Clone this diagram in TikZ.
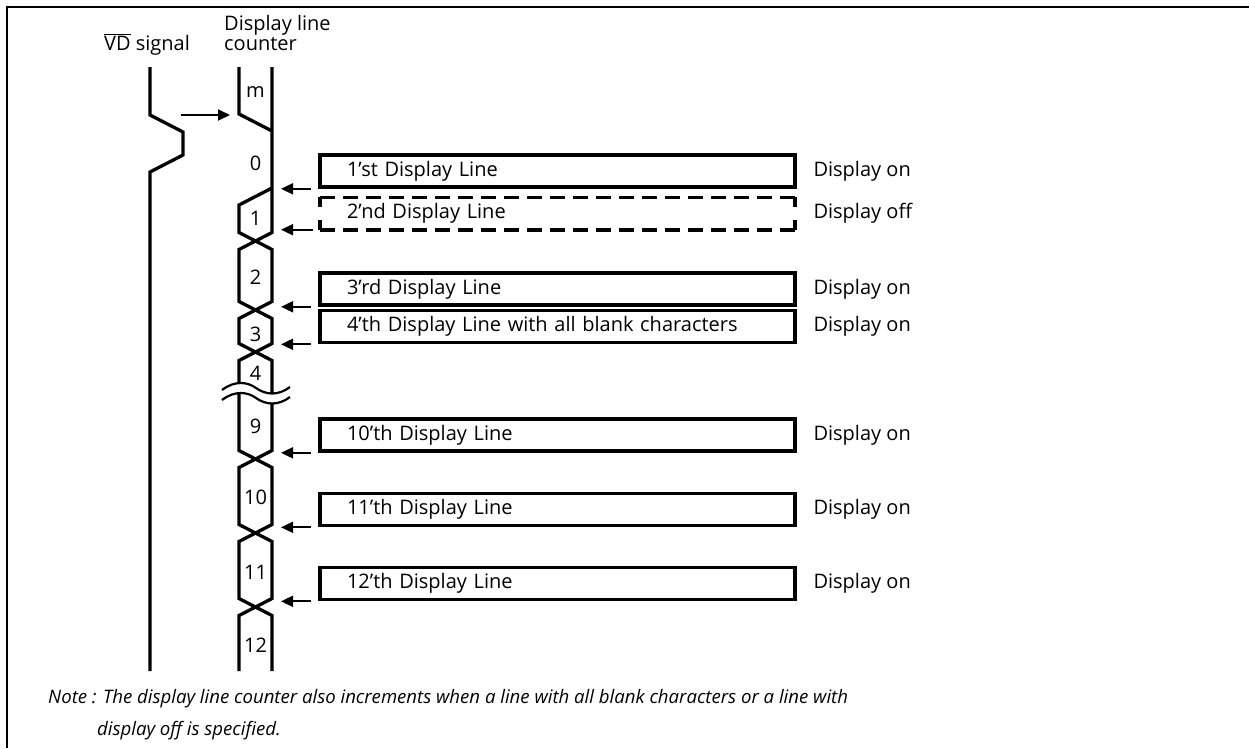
\documentclass[tikz,border=0pt]{standalone}
\usepackage{fontspec}
\setmainfont{Open Sans}
\usetikzlibrary{arrows.meta}
\begin{document}
\begin{tikzpicture}[x=1pt,y=-1pt,
  sig/.style={line width=3.3pt, line join=miter},
  frame/.style={line width=2.6pt},
  ptr/.style={line width=1.8pt, -{Triangle[length=12pt,width=11pt]}},
  txt/.style={font=\fontsize{20}{23}\selectfont},
  linebox/.style={draw, line width=3.6pt, minimum width=475pt, minimum height=32pt,
     inner xsep=27pt, inner ysep=0pt, text width=421pt, align=left, txt},
  offbox/.style={minimum width=475pt, minimum height=32pt,
     inner xsep=27pt, inner ysep=0pt, text width=421pt, align=left, txt},
  dashbox/.style={line width=3.6pt},
  state/.style={anchor=west, txt},
  num/.style={txt, inner sep=0pt},
  head/.style={txt, inner sep=0pt, anchor=base west}]
\useasboundingbox (0,0) rectangle (1249,748);
% frame
\draw[frame] (7,748) -- (7,7) -- (1249,7);
% headers
\node[head] (hvd) at (104,50) {$\overline{\hbox{VD}}$ signal};
\node[head] (hdl) at (224,30) {Display line};
\node[head] (hct) at (224,50.5) {counter};
% VD signal
\draw[sig] (150,67) -- (150,115) -- (183,132) -- (183,155) -- (150,172) -- (150,671);
% counter lines
\draw[sig] (239,67) -- (239,114) -- (272,131);
\draw[sig] (272,67) -- (272,232.5) -- (239,249.5) -- (239,301.5) -- (272,318.5) -- (272,343.5) -- (239,360.5)
   -- (239,450.5) -- (272,467.5) -- (272,524.5) -- (239,541.5) -- (239,598.5) -- (272,615.5) -- (272,671);
\draw[sig] (272,188) -- (239,205) -- (239,232.5) -- (272,249.5) -- (272,301.5) -- (239,318.5) -- (239,343.5) -- (272,360.5)
   -- (272,450.5) -- (239,467.5) -- (239,524.5) -- (272,541.5) -- (272,598.5) -- (239,615.5) -- (239,671);
% break mark
\fill[white] (222,390) .. controls (235,380) and (248,382) .. (256,388) .. controls (266,395) and (278,396) .. (290,387)
   -- (290,397) .. controls (278,406) and (266,405) .. (256,398) .. controls (248,392) and (235,390) .. (222,400) -- cycle;
\draw[line width=2.2pt] (222,390) .. controls (235,380) and (248,382) .. (256,388) .. controls (266,395) and (278,396) .. (290,387);
\draw[line width=2.2pt] (222,400) .. controls (235,390) and (248,392) .. (256,398) .. controls (266,405) and (278,406) .. (290,397);
% counter values
\node[num] (nm) at (255.5,92) {m};
\node[num] (n0) at (255.5,163) {0};
\node[num] (n1) at (255.5,218) {1};
\node[num] (n2) at (255.5,277) {2};
\node[num] (n3) at (255.5,334) {3};
\node[num] (n4) at (255.5,373) {4};
\node[num] (n9) at (255.5,426) {9};
\node[num] (n10) at (255.5,497) {10};
\node[num] (n11) at (255.5,572) {11};
\node[num] (n12) at (255.5,645) {12};
% VD to counter arrow
\coordinate (vdk) at (181,115);
\coordinate (cm) at (230,115);
\draw[ptr] (vdk) -- (cm);
% boxes
\node[linebox] (b1) at (557.5,171) {1’st Display Line};
\node[offbox] (b2) at (557.5,213.5) {2’nd Display Line};
\draw[dashbox, dash pattern=on 15pt off 8pt] (b2.north west) -- (b2.north east);
\draw[dashbox, dash pattern=on 15pt off 8pt] (b2.south west) -- (b2.south east);
\draw[dashbox, dash pattern=on 10pt off 13pt] (b2.north west) -- (b2.south west);
\draw[dashbox, dash pattern=on 10pt off 13pt] (b2.north east) -- (b2.south east);
\node[linebox] (b3) at (557.5,289) {3’rd Display Line};
\node[linebox] (b4) at (557.5,326.5) {4’th Display Line with all blank characters};
\node[linebox] (b10) at (557.5,435) {10’th Display Line};
\node[linebox] (b11) at (557.5,509.5) {11’th Display Line};
\node[linebox] (b12) at (557.5,583.5) {12’th Display Line};
% states
\node[state] (s1) at (810,171) {Display on};
\node[state] (s2) at (810,213.5) {Display off};
\node[state] (s3) at (810,289) {Display on};
\node[state] (s4) at (810,326.5) {Display on};
\node[state] (s10) at (810,435) {Display on};
\node[state] (s11) at (810,509.5) {Display on};
\node[state] (s12) at (810,583.5) {Display on};
% pointers
\coordinate (tip) at (281,0);
\foreach \b in {b1,b2,b3,b4,b10,b11,b12}{
  \draw[ptr] ([xshift=-7pt]\b.south west) -- (tip |- \b.south west);
}
% note
\node[anchor=base west, inner sep=0pt, font=\fontsize{18.6}{22}\selectfont\itshape] (note1) at (48,703)
  {Note : The display line counter also increments when a line with all blank characters or a line with};
\node[anchor=base west, inner sep=0pt, font=\fontsize{18.6}{22}\selectfont\itshape] (note2) at (97,735)
  {display off is specified.};
\end{tikzpicture}
\end{document}
